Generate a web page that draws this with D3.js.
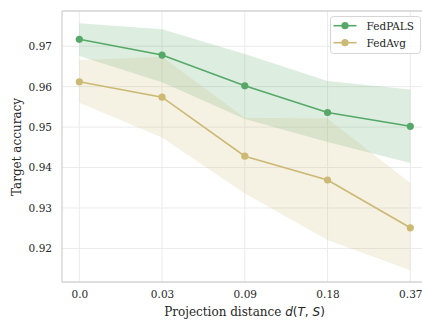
<!DOCTYPE html>
<html>
<head>
<meta charset="utf-8">
<script src="https://cdn.jsdelivr.net/npm/d3@7"></script>
<style>
  html, body { margin: 0; padding: 0; background: #fff; }
  svg { display: block; }
  text { font-family: "DejaVu Serif", serif; fill: #262626; }
</style>
</head>
<body>
<svg id="chart" width="422" height="320"></svg>
<script>
const categories = ["0.0", "0.03", "0.09", "0.18", "0.37"];
const fedpalsMean  = [0.9717, 0.9678, 0.9602, 0.9536, 0.9502];
const fedpalsUpper = [0.9757, 0.9742, 0.9681, 0.9614, 0.9593];
const fedpalsLower = [0.9676, 0.9611, 0.9520, 0.9463, 0.9411];
const fedavgMean   = [0.9612, 0.9574, 0.9428, 0.9369, 0.9251];
const fedavgUpper  = [0.9666, 0.9674, 0.9523, 0.9521, 0.9362];
const fedavgLower  = [0.9560, 0.9474, 0.9336, 0.9221, 0.9146];
const yTicks = [0.92, 0.93, 0.94, 0.95, 0.96, 0.97];
const seriesNames = ["FedPALS", "FedAvg"];

const colors = { FedPALS: "#55a868", FedAvg: "#ccb974" };
const series = [
  { name: seriesNames[0], mean: fedpalsMean, upper: fedpalsUpper, lower: fedpalsLower },
  { name: seriesNames[1], mean: fedavgMean, upper: fedavgUpper, lower: fedavgLower }
];

const svg = d3.select("#chart");
const plot = { left: 62, right: 432, top: 11, bottom: 282 };

const x = d3.scalePoint().domain(categories).range([79.3, 410.3]);
const y = d3.scaleLinear().domain([0.9117, 0.9787]).range([plot.bottom, plot.top]);

// grid
const g = svg.append("g");
g.selectAll(".ygrid").data(yTicks).join("line")
  .attr("x1", plot.left).attr("x2", plot.right)
  .attr("y1", d => y(d)).attr("y2", d => y(d))
  .attr("stroke", "#ebebeb").attr("stroke-width", 1);
g.selectAll(".xgrid").data(categories).join("line")
  .attr("x1", d => x(d)).attr("x2", d => x(d))
  .attr("y1", plot.top).attr("y2", plot.bottom)
  .attr("stroke", "#ebebeb").attr("stroke-width", 1);

// bands
const area = d3.area()
  .x((d, i) => x(categories[i]))
  .y0(d => y(d[0]))
  .y1(d => y(d[1]));
series.forEach(s => {
  const pts = s.lower.map((v, i) => [v, s.upper[i]]);
  svg.append("path").datum(pts)
    .attr("d", area)
    .attr("fill", colors[s.name])
    .attr("fill-opacity", 0.2);
});

// lines + markers
const line = d3.line().x((d, i) => x(categories[i])).y(d => y(d));
series.forEach(s => {
  svg.append("path").datum(s.mean)
    .attr("d", line)
    .attr("fill", "none")
    .attr("stroke", colors[s.name])
    .attr("stroke-width", 1.6);
  svg.append("g").selectAll("circle").data(s.mean).join("circle")
    .attr("cx", (d, i) => x(categories[i]))
    .attr("cy", d => y(d))
    .attr("r", 3.6)
    .attr("fill", colors[s.name]);
});

// spines
svg.append("line").attr("x1", plot.left).attr("x2", plot.left)
  .attr("y1", plot.top).attr("y2", plot.bottom + 0.6)
  .attr("stroke", "#d3d3d3").attr("stroke-width", 1.3);
svg.append("line").attr("x1", plot.left).attr("x2", plot.right)
  .attr("y1", plot.bottom).attr("y2", plot.bottom)
  .attr("stroke", "#d3d3d3").attr("stroke-width", 1.3);
svg.append("line").attr("x1", plot.left).attr("x2", plot.right)
  .attr("y1", plot.top).attr("y2", plot.top)
  .attr("stroke", "#d3d3d3").attr("stroke-width", 1.3);

// axes (tick labels via d3 axes)
const yAxis = d3.axisLeft(y).tickValues(yTicks).tickFormat(d3.format(".2f")).tickSize(0).tickPadding(10);
const yg = svg.append("g").attr("transform", `translate(${plot.left},0)`).call(yAxis);
yg.select(".domain").remove();
yg.selectAll("text").attr("font-family", "DejaVu Serif").attr("font-size", 10.5).attr("fill", "#262626");

const xAxis = d3.axisBottom(x).tickSize(0).tickPadding(9);
const xg = svg.append("g").attr("transform", `translate(0,${plot.bottom})`).call(xAxis);
xg.select(".domain").remove();
xg.selectAll("text").attr("font-family", "DejaVu Serif").attr("font-size", 10.5).attr("fill", "#262626");

// axis labels
const xl = svg.append("text")
  .attr("x", 244.5).attr("y", 316)
  .attr("text-anchor", "middle")
  .attr("font-size", 12);
xl.append("tspan").text("Projection distance ");
xl.append("tspan").attr("font-family", "DejaVu Sans").attr("font-style", "italic").text("d");
xl.append("tspan").attr("font-family", "DejaVu Sans").text("(");
xl.append("tspan").attr("font-family", "DejaVu Sans").attr("font-style", "italic").text("T");
xl.append("tspan").attr("font-family", "DejaVu Sans").text(", ");
xl.append("tspan").attr("font-family", "DejaVu Sans").attr("font-style", "italic").text("S");
xl.append("tspan").attr("font-family", "DejaVu Sans").text(")");

svg.append("text")
  .attr("transform", "translate(21,147) rotate(-90)")
  .attr("text-anchor", "middle")
  .attr("font-size", 12)
  .text("Target accuracy");

// legend
const lg = svg.append("g");
lg.append("rect").attr("x", 330.5).attr("y", 16.5).attr("width", 90).attr("height", 37)
  .attr("rx", 3).attr("fill", "#fff").attr("fill-opacity", 0.8)
  .attr("stroke", "#d6d6d6").attr("stroke-width", 1);
seriesNames.forEach((n, i) => {
  const cy = 25.7 + i * 17;
  lg.append("line").attr("x1", 333.5).attr("x2", 356.5).attr("y1", cy).attr("y2", cy)
    .attr("stroke", colors[n]).attr("stroke-width", 1.6);
  lg.append("circle").attr("cx", 345).attr("cy", cy).attr("r", 3.6).attr("fill", colors[n]);
  lg.append("text").attr("x", 366.5).attr("y", cy + 3.8).attr("font-size", 10.5).text(n);
});
</script>
</body>
</html>
